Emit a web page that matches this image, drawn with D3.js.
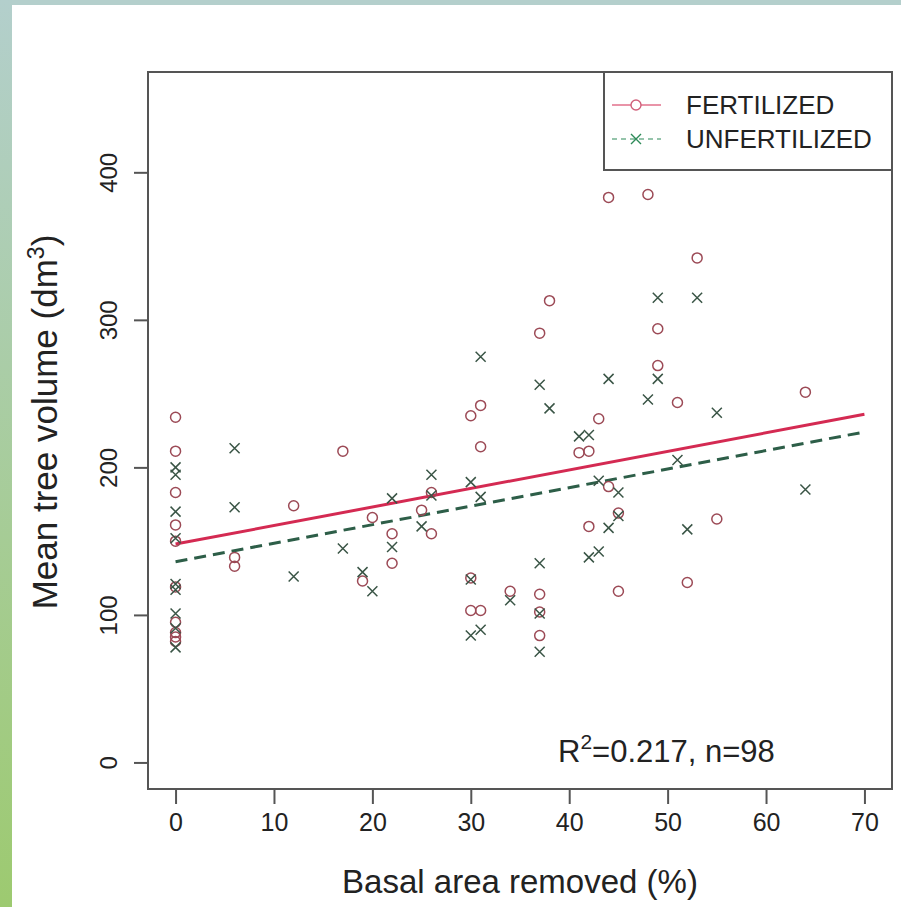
<!DOCTYPE html>
<html>
<head>
<meta charset="utf-8">
<script src="https://d3js.org/d3.v7.min.js"></script>
<style>
  body { margin: 0; background: #ffffff; }
  text { font-family: "Liberation Sans", Arial, sans-serif; fill: #222; }
</style>
</head>
<body>
<div id="chart"></div>
<script>
// Fertilized stands (circles): basal area removed (%) and mean tree volume (dm3)
var fertRemoved = [0, 0, 0, 0, 0, 0, 0, 0, 0, 0,
    6, 6, 12, 17, 19, 20, 22, 22, 25, 26, 26,
    30, 30, 30, 31, 31, 31, 34, 37, 37, 37, 37, 38,
    41, 42, 42, 43, 44, 44, 45, 45, 48, 49, 49, 51, 52, 53, 55, 64];
var fertVolume = [234, 211, 183, 161, 150, 119, 95, 88, 85, 82,
    139, 133, 174, 211, 123, 166, 155, 135, 171, 183, 155,
    235, 125, 103, 242, 214, 103, 116, 291, 114, 102, 86, 313,
    210, 211, 160, 233, 383, 187, 169, 116, 385, 294, 269, 244, 122, 342, 165, 251];

// Unfertilized stands (crosses)
var unfertRemoved = [0, 0, 0, 0, 0, 0, 0, 0, 0,
    6, 6, 12, 17, 19, 20, 22, 22, 25, 26, 26,
    30, 30, 30, 31, 31, 31, 34, 37, 37, 37, 37, 38,
    41, 42, 42, 43, 43, 44, 44, 45, 45, 48, 49, 49, 51, 52, 53, 55, 64];
var unfertVolume = [200, 195, 170, 152, 121, 117, 101, 91, 78,
    213, 173, 126, 145, 129, 116, 179, 146, 160, 195, 181,
    190, 124, 86, 275, 180, 90, 110, 256, 135, 101, 75, 240,
    221, 222, 139, 191, 143, 260, 159, 183, 167, 246, 315, 260, 205, 158, 315, 237, 185];

// Fitted lines (common slope), drawn from 0 to 70 %
var fitRange = [0, 70];
var fertFit = [148, 236];
var unfertFit = [136, 224];

var xTicks = [0, 10, 20, 30, 40, 50, 60, 70];
var yTicks = [0, 100, 200, 300, 400];
var legendLabels = ["FERTILIZED", "UNFERTILIZED"];

var svgWidth = 901;
var svgHeight = 907;

var box = { left: 148, right: 892, top: 72, bottom: 789 };

var fertColor = "#9c4a56";
var unfertColor = "#3a5546";

var svg = d3.select("#chart").append("svg")
    .attr("width", svgWidth)
    .attr("height", svgHeight);

// page frame: greenish strip on the left, grey-blue strip on top
var grad = svg.append("defs").append("linearGradient")
    .attr("id", "strip")
    .attr("x1", 0).attr("y1", 0)
    .attr("x2", 0).attr("y2", 1);
grad.append("stop").attr("offset", "0%").attr("stop-color", "#b3cfcc");
grad.append("stop").attr("offset", "100%").attr("stop-color", "#9dca70");

svg.append("rect")
    .attr("x", 0).attr("y", 0)
    .attr("width", svgWidth).attr("height", 5)
    .attr("fill", "#b4cfcc");
svg.append("rect")
    .attr("x", 0).attr("y", 0)
    .attr("width", 12).attr("height", svgHeight)
    .attr("fill", "url(#strip)");

// Scales (R style 4% padding)
var xScale = d3.scaleLinear()
    .domain([-2.8, 72.8])
    .range([box.left, box.right]);

var yScale = d3.scaleLinear()
    .domain([-18, 468])
    .range([box.bottom, box.top]);

// plot frame
svg.append("rect")
    .attr("x", box.left)
    .attr("y", box.top)
    .attr("width", box.right - box.left)
    .attr("height", box.bottom - box.top)
    .attr("fill", "none")
    .attr("stroke", "#555")
    .attr("stroke-width", 2);

// x axis
var bottomAxis = d3.axisBottom(xScale)
    .tickValues(xTicks)
    .tickSize(15)
    .tickPadding(9);

var xAxis = svg.append("g")
    .attr("transform", `translate(0, ${box.bottom})`)
    .call(bottomAxis);
xAxis.select(".domain").remove();
xAxis.selectAll("line").attr("stroke", "#555").attr("stroke-width", 2);
xAxis.selectAll("text")
    .style("font-family", "Liberation Sans, Arial, sans-serif")
    .style("font-size", "25px")
    .attr("fill", "#222");

// y axis, labels rotated like R default
var leftAxis = d3.axisLeft(yScale)
    .tickValues(yTicks)
    .tickSize(14);

var yAxis = svg.append("g")
    .attr("transform", `translate(${box.left}, 0)`)
    .call(leftAxis);
yAxis.select(".domain").remove();
yAxis.selectAll("line").attr("stroke", "#555").attr("stroke-width", 2);
yAxis.selectAll("text")
    .attr("x", null).attr("dy", null)
    .attr("transform", "translate(-31, 0) rotate(-90)")
    .attr("text-anchor", "middle")
    .style("font-family", "Liberation Sans, Arial, sans-serif")
    .style("font-size", "24px")
    .attr("fill", "#222");

// axis titles
svg.append("text")
    .attr("x", (box.left + box.right) / 2)
    .attr("y", 893)
    .attr("text-anchor", "middle")
    .style("font-size", "33px")
    .text("Basal area removed (%)");

var yTitle = svg.append("text")
    .attr("transform", "translate(57, 422) rotate(-90)")
    .attr("text-anchor", "middle")
    .style("font-size", "35px");
yTitle.append("tspan").text("Mean tree volume (dm");
yTitle.append("tspan").attr("dy", -13).style("font-size", "23px").text("3");
yTitle.append("tspan").attr("dy", 13).text(")");

// fitted lines
svg.append("line")
    .attr("x1", xScale(fitRange[0])).attr("y1", yScale(fertFit[0]))
    .attr("x2", xScale(fitRange[1])).attr("y2", yScale(fertFit[1]))
    .attr("stroke", "#d42a52")
    .attr("stroke-width", 3);

svg.append("line")
    .attr("x1", xScale(fitRange[0])).attr("y1", yScale(unfertFit[0]))
    .attr("x2", xScale(fitRange[1])).attr("y2", yScale(unfertFit[1]))
    .attr("stroke", "#2d5e48")
    .attr("stroke-width", 3)
    .attr("stroke-dasharray", "12,7");

// points
var fertData = fertRemoved.map((d, i) => ({ x: d, y: fertVolume[i] }));
var unfertData = unfertRemoved.map((d, i) => ({ x: d, y: unfertVolume[i] }));

svg.append("g").selectAll("circle")
    .data(fertData)
    .enter()
    .append("circle")
    .attr("cx", d => xScale(d.x))
    .attr("cy", d => yScale(d.y))
    .attr("r", 5)
    .attr("fill", "none")
    .attr("stroke", fertColor)
    .attr("stroke-width", 1.5);

var cross = "M-5,-5L5,5M-5,5L5,-5";
svg.append("g").selectAll("path")
    .data(unfertData)
    .enter()
    .append("path")
    .attr("transform", d => `translate(${xScale(d.x)}, ${yScale(d.y)})`)
    .attr("d", cross)
    .attr("fill", "none")
    .attr("stroke", unfertColor)
    .attr("stroke-width", 1.5);

// legend
var legend = svg.append("g");
legend.append("rect")
    .attr("x", 604).attr("y", box.top)
    .attr("width", box.right - 604).attr("height", 98)
    .attr("fill", "#fff")
    .attr("stroke", "#555")
    .attr("stroke-width", 2);

var legendRows = legend.selectAll("g.row")
    .data(legendLabels)
    .enter()
    .append("g")
    .attr("class", "row")
    .attr("transform", (d, i) => `translate(0, ${105 + i * 34})`);

legendRows.append("line")
    .attr("x1", 612).attr("x2", 661)
    .attr("stroke", (d, i) => i === 0 ? "#d42a52" : "#2d8a58")
    .attr("stroke-width", 1.2)
    .attr("stroke-dasharray", (d, i) => i === 0 ? null : "5,4");

legendRows.filter((d, i) => i === 0).append("circle")
    .attr("cx", 636).attr("cy", 0).attr("r", 5)
    .attr("fill", "#fff")
    .attr("stroke", "#d0607a")
    .attr("stroke-width", 1.4);

legendRows.filter((d, i) => i === 1).append("path")
    .attr("transform", "translate(636, 0)")
    .attr("d", cross)
    .attr("fill", "none")
    .attr("stroke", "#2d8a58")
    .attr("stroke-width", 1.4);

legendRows.append("text")
    .attr("x", 686)
    .attr("y", 9)
    .style("font-size", "26px")
    .text(d => d);

// fit statistics
var stat = svg.append("text")
    .attr("x", 558)
    .attr("y", 762)
    .style("font-size", "31px");
stat.append("tspan").text("R");
stat.append("tspan").attr("dy", -13).style("font-size", "21px").text("2");
stat.append("tspan").attr("dy", 13).text("=0.217, n=98");
</script>
</body>
</html>
